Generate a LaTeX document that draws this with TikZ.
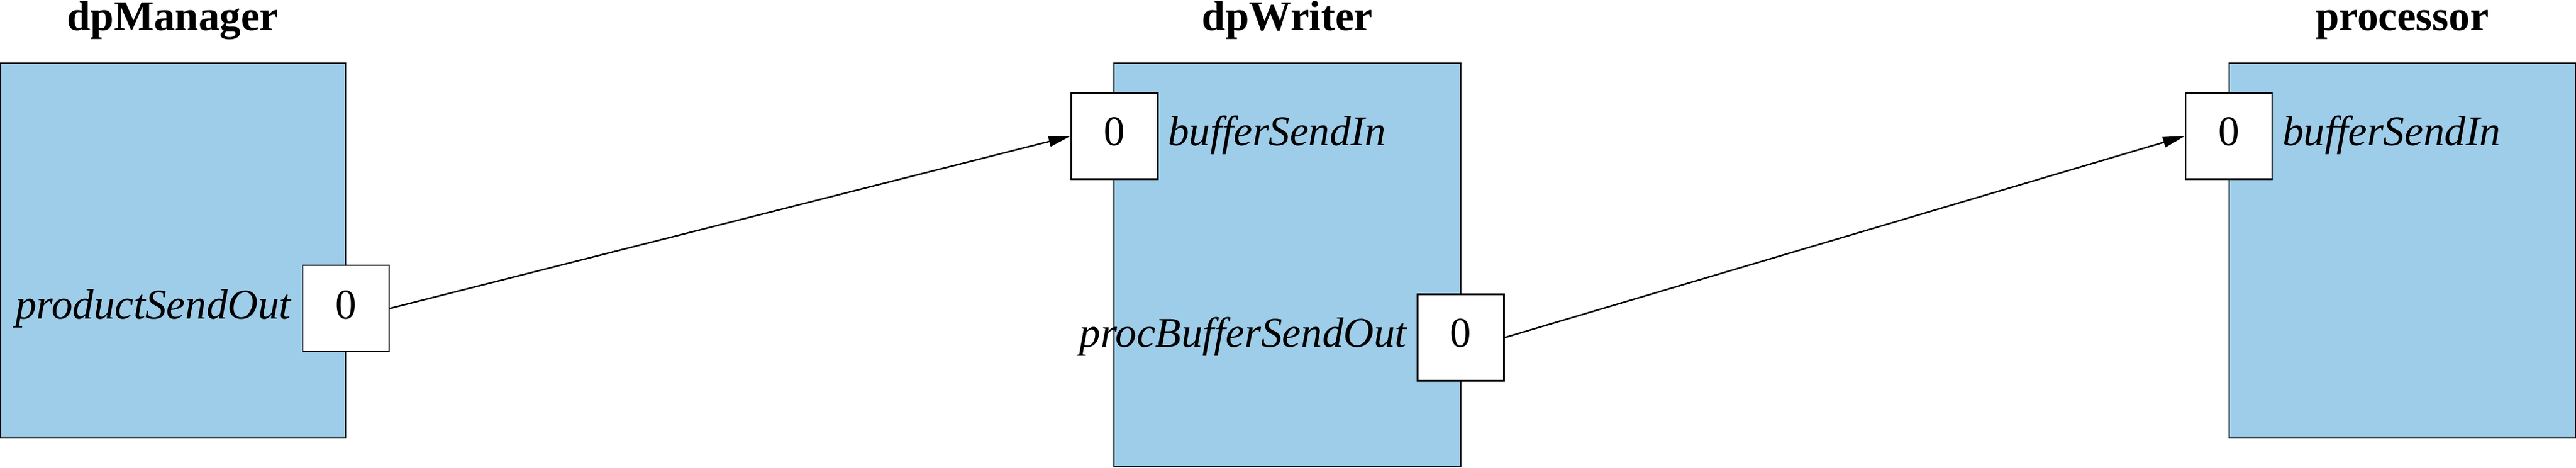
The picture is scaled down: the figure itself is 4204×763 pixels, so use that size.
\documentclass[tikz,border=0pt]{standalone}
\usepackage{fontspec}
\setmainfont{Liberation Serif}
\usetikzlibrary{arrows.meta}
\definecolor{actorblue}{HTML}{9ECDE9}
\begin{document}
\begin{tikzpicture}[x=0.2pt,y=-0.2pt,
  actor/.style={draw=black, fill=actorblue, line width=0.45pt, inner sep=0pt},
  port/.style={draw=black, fill=white, line width=0.45pt, minimum width=28.2pt, minimum height=28.2pt, inner sep=0pt},
  num/.style={font=\fontsize{13.8}{16}\selectfont, anchor=base, inner sep=0pt},
  ttl/.style={font=\fontsize{13.8}{16}\selectfont\bfseries, anchor=base, inner sep=0pt},
  plabel/.style={font=\fontsize{13.8}{16}\selectfont\itshape, inner sep=0pt},
  conn/.style={line width=0.5pt, -{Triangle[length=7.2pt,width=3.4pt]}}
]
\useasboundingbox (0,0) rectangle (4204,763);
% actors
\node[actor, minimum width=112.8pt, minimum height=122.4pt] (mgr) at (282,409) {};
\node[actor, minimum width=113.2pt, minimum height=131.8pt] (wrt) at (2101,432.5) {};
\node[actor, minimum width=113pt, minimum height=122.4pt] (proc) at (3920.5,409) {};
% titles
\node[ttl] (tmgr) at (282,49) {dpManager};
\node[ttl] (twrt) at (2101,49) {dpWriter};
\node[ttl] (tproc) at (3920.5,49) {processor};
% ports
\node[port] (pmo) at (564.5,503.5) {};
\node[port] (pwi) at (1819,222) {};
\node[port] (pwo) at (2384,551) {};
\node[port] (ppi) at (3637.5,222) {};
% port numbers
\node[num] (nmo) at (564.5,520) {0};
\node[num] (nwi) at (1819,237) {0};
\node[num] (nwo) at (2384,566) {0};
\node[num] (npi) at (3637.5,237) {0};
% port labels
\node[plabel, anchor=base east] (lmo) at (476,520) {productSendOut};
\node[plabel, anchor=base west] (lwi) at (1905,237) {bufferSendIn};
\node[plabel, anchor=base east] (lwo) at (2297,566) {procBufferSendOut};
\node[plabel, anchor=base west] (lpi) at (3724,237) {bufferSendIn};
% connectors
\draw[conn] (pmo.east) -- (pwi.west);
\draw[conn] (pwo.east) -- (ppi.west);
\end{tikzpicture}
\end{document}
